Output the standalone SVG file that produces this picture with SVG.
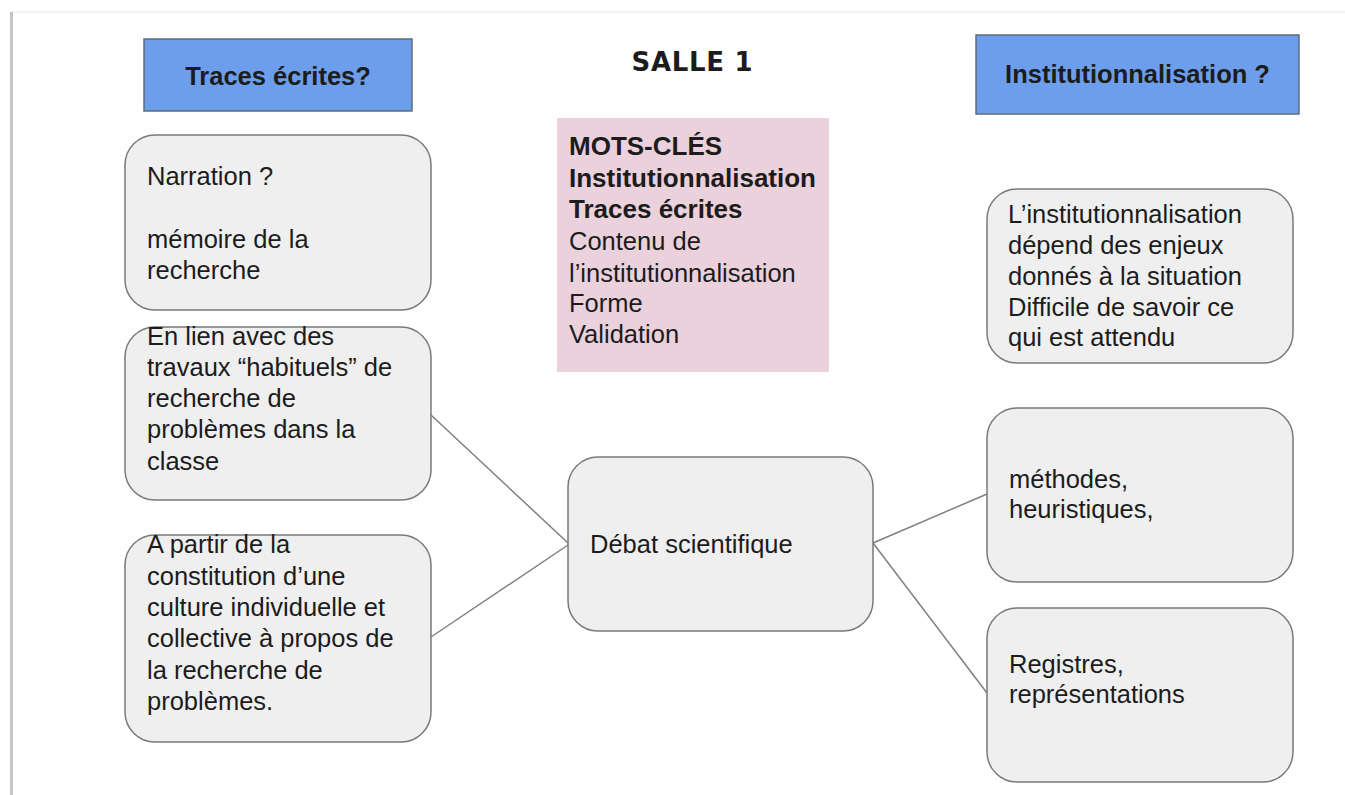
<svg xmlns="http://www.w3.org/2000/svg" width="1345" height="795" viewBox="0 0 1345 795">
<style>
.hdr{fill:#6d9eeb;stroke:#5f6b7a;stroke-width:1.5}
.box{fill:#efefef;stroke:#7a7a7a;stroke-width:1.5}
.t{font-family:"Liberation Sans",Arial,sans-serif;font-size:25.5px;fill:#1c1c1c}
.b{font-weight:bold}
.k{font-size:26px}
.conn line{stroke:#808080;stroke-width:1.5}
</style>
<rect width="1345" height="795" fill="#ffffff"/>
<line x1="11" y1="12" x2="1345" y2="12" stroke="#f0f0f0" stroke-width="1.5"/>
<line x1="11.5" y1="12" x2="11.5" y2="795" stroke="#c4c4c4" stroke-width="3"/>

<g class="conn">
<line x1="431" y1="415" x2="568" y2="543"/>
<line x1="431" y1="637" x2="568" y2="545"/>
<line x1="873" y1="543" x2="987" y2="494"/>
<line x1="873" y1="543" x2="987" y2="693"/>
</g>

<g id="traces">
<rect class="hdr" x="144" y="39" width="268" height="72"/>
<text class="t b" x="278" y="85" text-anchor="middle">Traces écrites?</text>
</g>

<g id="salle">
<text x="692" y="71" text-anchor="middle" font-family="DejaVu Sans, Verdana, sans-serif" font-weight="bold" font-size="26" fill="#1c1c1c" textLength="121" lengthAdjust="spacing">SALLE 1</text>
</g>

<g id="institution">
<rect class="hdr" x="976" y="35" width="323" height="79"/>
<text class="t b" x="1137.5" y="83" text-anchor="middle">Institutionnalisation ?</text>
</g>

<g id="motscles">
<rect x="557" y="118" width="272" height="254" fill="#ead1dc"/>
<text class="t b k" x="569" y="155">MOTS-CLÉS</text>
<text class="t b k" x="569" y="187">Institutionnalisation</text>
<text class="t b k" x="569" y="218">Traces écrites</text>
<text class="t" x="569" y="250">Contenu de</text>
<text class="t" x="569" y="282">l’institutionnalisation</text>
<text class="t" x="569" y="312">Forme</text>
<text class="t" x="569" y="343">Validation</text>
</g>

<g id="narration">
<rect class="box" x="125" y="135" width="306" height="175" rx="30"/>
<text class="t" x="147" y="185">Narration ?</text>
<text class="t" x="147" y="248">mémoire de la</text>
<text class="t" x="147" y="279">recherche</text>
</g>

<g id="enlien">
<rect class="box" x="125" y="327" width="306" height="173" rx="30"/>
<text class="t" x="147" y="345">En lien avec des</text>
<text class="t" x="147" y="376">travaux “habituels” de</text>
<text class="t" x="147" y="407">recherche de</text>
<text class="t" x="147" y="438">problèmes dans la</text>
<text class="t" x="147" y="470">classe</text>
</g>

<g id="apartir">
<rect class="box" x="125" y="535" width="306" height="207" rx="30"/>
<text class="t" x="147" y="553">A partir de la</text>
<text class="t" x="147" y="585">constitution d’une</text>
<text class="t" x="147" y="616">culture individuelle et</text>
<text class="t" x="147" y="647">collective à propos de</text>
<text class="t" x="147" y="679">la recherche de</text>
<text class="t" x="147" y="710">problèmes.</text>
</g>

<g id="debat">
<rect class="box" x="568" y="457" width="305" height="174" rx="30"/>
<text class="t" x="590" y="553">Débat scientifique</text>
</g>

<g id="depend">
<rect class="box" x="987" y="189" width="306" height="174" rx="30"/>
<text class="t" x="1008" y="223">L’institutionnalisation</text>
<text class="t" x="1008" y="254">dépend des enjeux</text>
<text class="t" x="1008" y="285">donnés à la situation</text>
<text class="t" x="1008" y="316">Difficile de savoir ce</text>
<text class="t" x="1008" y="346">qui est attendu</text>
</g>

<g id="methodes">
<rect class="box" x="987" y="408" width="306" height="174" rx="30"/>
<text class="t" x="1009" y="488">méthodes,</text>
<text class="t" x="1009" y="518">heuristiques,</text>
</g>

<g id="registres">
<rect class="box" x="987" y="608" width="306" height="174" rx="30"/>
<text class="t" x="1009" y="673">Registres,</text>
<text class="t" x="1009" y="703">représentations</text>
</g>
</svg>
